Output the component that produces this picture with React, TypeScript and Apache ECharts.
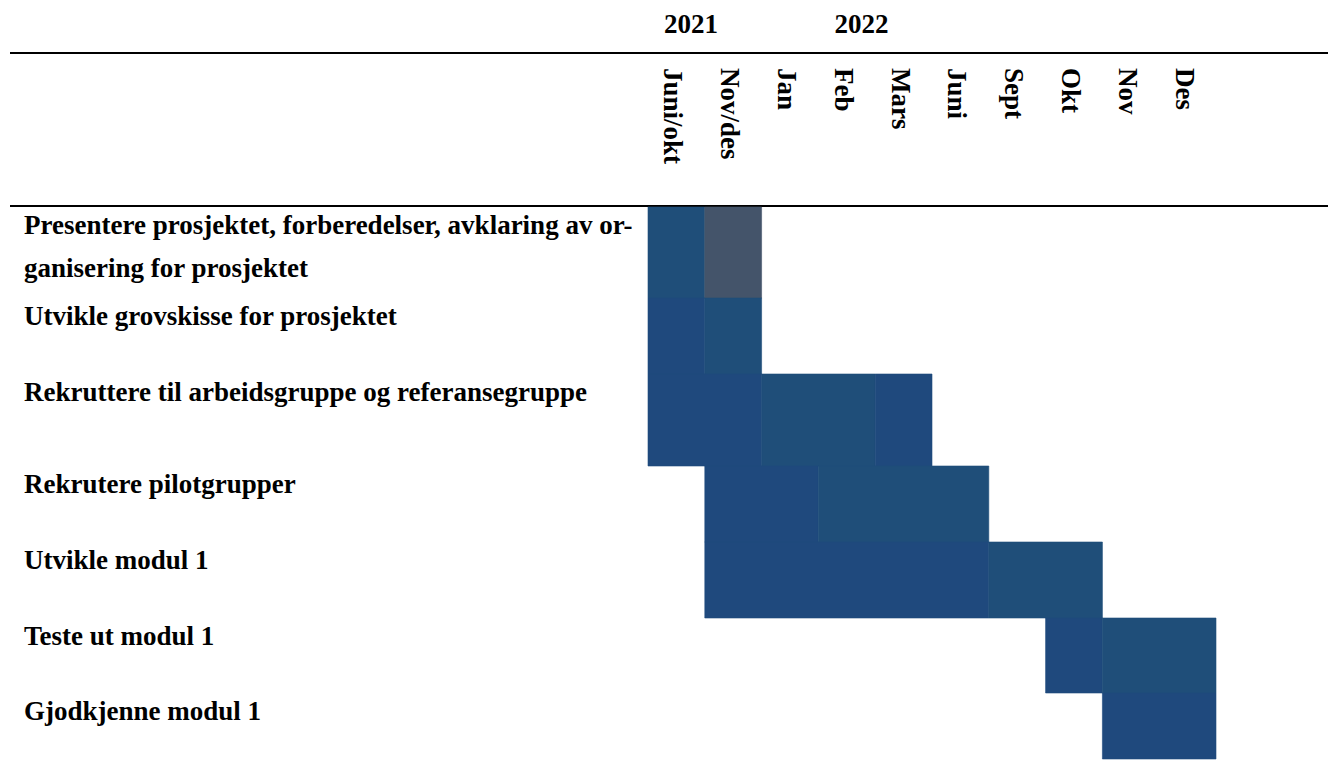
import React, { useEffect, useRef } from "react";
import * as echarts from "echarts";

// ---------- data ----------
const months = ["Juni/okt", "Nov/des", "Jan", "Feb", "Mars", "Juni", "Sept", "Okt", "Nov", "Des"];
const years = ["2021", "2022"];
const yearFirstMonth = [0, 3];
const tasks = [
  "Presentere prosjektet, forberedelser, avklaring av or-\nganisering for prosjektet",
  "Utvikle grovskisse for prosjektet",
  "Rekruttere til arbeidsgruppe og referansegruppe",
  "Rekrutere pilotgrupper",
  "Utvikle modul 1",
  "Teste ut modul 1",
  "Gjodkjenne modul 1",
];
// one entry per coloured span: task, first month index, month index after the span, shade
const spanTask = [0, 0, 1, 1, 2, 2, 2, 3, 3, 4, 4, 5, 5, 6];
const spanStart = [0, 1, 0, 1, 0, 2, 4, 1, 3, 1, 6, 7, 8, 8];
const spanEnd = [1, 2, 1, 2, 2, 4, 5, 3, 6, 6, 8, 8, 10, 10];
const spanShade = [0, 2, 1, 0, 1, 0, 1, 1, 0, 1, 0, 1, 0, 1]; // 0 teal, 1 dark blue, 2 slate

// ---------- layout / style ----------
const SHADES = ["#1f4e79", "#1f497d", "#44546a"];
const ROW_HEIGHTS = [91, 76, 92, 76, 76, 75, 66];
const FONT = '"Liberation Serif", "Times New Roman", serif';
const FS = 27;
const LINE_GAP = 43;
const LABEL_OFFSET = 18;

const rowTops: number[] = [0];
ROW_HEIGHTS.forEach((h, i) => rowTops.push(rowTops[i] + h));
const TOTAL_H = rowTops[rowTops.length - 1];

export default function App() {
  const ref = useRef<HTMLDivElement>(null);
  useEffect(() => {
    document.body.style.margin = "0";
    if (!ref.current) return;
    const chart = echarts.init(ref.current, undefined, { renderer: "svg" });

    const cellData = spanTask.map((t, i) => [spanStart[i], spanEnd[i], t, spanShade[i]]);

    const option: any = {
      animation: false,
      backgroundColor: "#ffffff",
      grid: [
        { left: 648, top: 207, width: 568, height: TOTAL_H },
        { left: 645, top: 40, width: 568, height: 20 },
      ],
      xAxis: [
        { type: "value", gridIndex: 0, min: 0, max: months.length, show: false },
        {
          type: "category",
          gridIndex: 1,
          data: months,
          position: "bottom",
          axisLine: { show: false },
          axisTick: { show: false },
          splitLine: { show: false },
          axisLabel: {
            interval: 0,
            rotate: -90,
            margin: 8,
            color: "#000",
            fontFamily: FONT,
            fontWeight: "bold",
            fontSize: FS,
          },
        },
      ],
      yAxis: [
        { type: "value", gridIndex: 0, min: 0, max: TOTAL_H, inverse: true, show: false },
        { type: "value", gridIndex: 1, show: false },
      ],
      graphic: [
        { type: "line", shape: { x1: 10, y1: 53, x2: 1328, y2: 53 }, style: { stroke: "#000", lineWidth: 2 } },
        { type: "line", shape: { x1: 10, y1: 206, x2: 1328, y2: 206 }, style: { stroke: "#000", lineWidth: 2 } },
      ],
      series: [
        {
          type: "custom",
          xAxisIndex: 0,
          yAxisIndex: 0,
          data: cellData,
          silent: true,
          renderItem: (params: any, api: any) => {
            const s = api.value(0);
            const e = api.value(1);
            const t = api.value(2);
            const shade = api.value(3);
            const p0 = api.coord([s, rowTops[t]]);
            const p1 = api.coord([e, rowTops[t + 1]]);
            return {
              type: "rect",
              shape: { x: p0[0], y: p0[1], width: p1[0] - p0[0], height: p1[1] - p0[1] },
              style: { fill: SHADES[shade], stroke: SHADES[shade], lineWidth: 0.6 },
            };
          },
        },
        {
          type: "custom",
          xAxisIndex: 0,
          yAxisIndex: 0,
          data: tasks.map((_, i) => [0, i]),
          silent: true,
          clip: false,
          renderItem: (params: any, api: any) => {
            const t = api.value(1);
            const top = api.coord([0, rowTops[t]])[1];
            const lines = tasks[t].split("\n");
            return {
              type: "group",
              children: lines.map((ln, j) => ({
                type: "text",
                style: {
                  text: ln,
                  x: 24,
                  y: top + LABEL_OFFSET + j * LINE_GAP,
                  fill: "#000",
                  fontFamily: FONT,
                  fontWeight: "bold",
                  fontSize: FS,
                  align: "left",
                  verticalAlign: "middle",
                },
              })),
            };
          },
        },
        {
          type: "custom",
          xAxisIndex: 0,
          yAxisIndex: 0,
          data: yearFirstMonth.map((m, i) => [m, i]),
          silent: true,
          clip: false,
          renderItem: (params: any, api: any) => {
            const m = api.value(0);
            const i = api.value(1);
            const x = api.coord([m, 0])[0];
            return {
              type: "text",
              style: {
                text: years[i],
                x: x + 16,
                y: 24,
                fill: "#000",
                fontFamily: FONT,
                fontWeight: "bold",
                fontSize: FS,
                align: "left",
                verticalAlign: "middle",
              },
            };
          },
        },
      ],
    };
    chart.setOption(option);
    return () => chart.dispose();
  }, []);
  return <div ref={ref} style={{ width: 1333, height: 760 }} />;
}
